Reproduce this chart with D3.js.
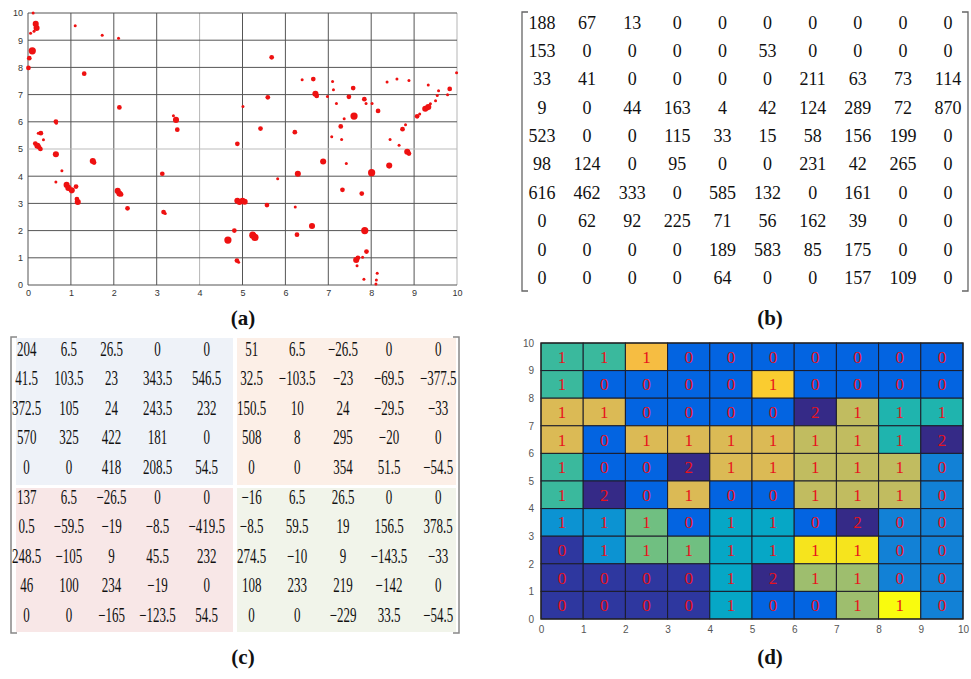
<!DOCTYPE html>
<html>
<head>
<meta charset="utf-8">
<script src="https://cdn.jsdelivr.net/npm/d3@7"></script>
<style>
body { margin: 0; background: #fff; }
svg { display: block; }
</style>
</head>
<body>
<div id="fig"></div>
<script>
// ---- data ----

// (a) sample points: [x, y, how many samples overlap at that spot]
var scatterPts = [
  [0.12,10,1],[0.18,9.6,3],[0.2,9.45,3],[0.14,9.33,1],[0.06,9.26,1],[1.10,9.53,1],[1.73,9.18,1],[2.11,9.07,1],
  [0.10,8.61,4],[0.03,8.34,2],[0.01,7.98,2],[1.31,7.77,2],[2.13,6.53,2],[3.39,6.22,1],[3.45,6.07,3],[3.48,5.71,2],
  [5.01,6.56,1],[4.88,5.19,2],[0.65,6.01,2],[0.66,5.95,1],[0.30,5.58,2],[0.24,5.58,1],[0.36,5.34,1],
  [0.17,5.2,2],[0.22,5.12,3],[0.26,5.06,2],[0.29,5.0,2],[0.65,4.81,3],[0.79,4.2,1],[0.65,3.79,1],
  [1.51,4.56,3],[1.54,4.5,2],[0.90,3.68,3],[0.94,3.57,3],[1.02,3.48,3],[1.12,3.62,2],[1.14,3.16,2],[1.16,3.05,3],
  [2.09,3.46,3],[2.13,3.36,3],[2.17,3.33,2],[2.32,2.82,2],[3.13,4.09,2],[3.16,2.68,2],[3.2,2.63,1],
  [4.88,3.1,3],[4.93,3.05,3],[5.0,3.1,3],[5.05,3.06,3],[4.81,2.0,2],[4.66,1.65,4],[4.87,0.9,2],[4.91,0.84,1],
  [5.68,8.37,2],[6.39,7.55,1],[6.65,7.57,2],[6.70,7.03,3],[6.73,6.95,2],[7.10,7.48,1],[7.12,7.18,1],[6.98,6.93,1],[7.19,6.67,1],
  [7.58,7.24,2],[7.48,6.92,2],[7.84,6.83,2],[7.88,6.67,1],[8.02,6.67,1],[8.16,6.40,2],[7.60,6.21,4],[7.37,6.11,1],[7.29,5.83,2],
  [7.08,5.45,1],[7.31,5.35,1],[8.37,7.46,1],[8.60,7.57,1],[8.88,7.52,1],[9.33,7.35,1],[9.57,7.14,1],[9.54,6.97,1],[9.83,7.21,2],
  [9.78,6.99,1],[9.99,7.80,1],[9.50,6.77,1],[9.38,6.66,1],[9.26,6.48,3],[9.33,6.54,3],[9.13,6.29,1],[9.07,6.2,2],[8.80,5.89,1],
  [8.73,5.73,2],[8.44,5.35,1],[8.65,5.14,1],[8.84,4.9,3],[8.88,4.83,2],[8.42,4.39,3],[8.01,4.13,4],[7.42,4.47,1],[6.88,4.54,3],
  [6.29,4.09,3],[5.82,3.91,1],[5.42,5.75,2],[5.59,6.9,2],[6.22,5.62,2],[7.33,3.5,2],[7.78,3.36,2],[5.57,2.94,2],[6.23,2.87,1],
  [6.62,2.17,3],[6.27,1.85,2],[5.24,1.83,4],[5.29,1.75,4],[7.85,2.0,4],[7.89,1.23,2],[7.65,0.92,3],[7.69,1.0,2],[7.80,1.02,1],
  [7.67,0.71,1],[7.83,0.21,1],[8.14,0.43,1],[8.12,0.18,1],[8.11,0.04,1]
];

// (b) matrix
var matB = [
  [188, 67, 13, 0, 0, 0, 0, 0, 0, 0],
  [153, 0, 0, 0, 0, 53, 0, 0, 0, 0],
  [33, 41, 0, 0, 0, 0, 211, 63, 73, 114],
  [9, 0, 44, 163, 4, 42, 124, 289, 72, 870],
  [523, 0, 0, 115, 33, 15, 58, 156, 199, 0],
  [98, 124, 0, 95, 0, 0, 231, 42, 265, 0],
  [616, 462, 333, 0, 585, 132, 0, 161, 0, 0],
  [0, 62, 92, 225, 71, 56, 162, 39, 0, 0],
  [0, 0, 0, 0, 189, 583, 85, 175, 0, 0],
  [0, 0, 0, 0, 64, 0, 0, 157, 109, 0]
];

// (c) matrix, 4 blocks of 5x5
var matC = [
  [204, 6.5, 26.5, 0, 0, 51, 6.5, -26.5, 0, 0],
  [41.5, 103.5, 23, 343.5, 546.5, 32.5, -103.5, -23, -69.5, -377.5],
  [372.5, 105, 24, 243.5, 232, 150.5, 10, 24, -29.5, -33],
  [570, 325, 422, 181, 0, 508, 8, 295, -20, 0],
  [0, 0, 418, 208.5, 54.5, 0, 0, 354, 51.5, -54.5],
  [137, 6.5, -26.5, 0, 0, -16, 6.5, 26.5, 0, 0],
  [0.5, -59.5, -19, -8.5, -419.5, -8.5, 59.5, 19, 156.5, 378.5],
  [248.5, -105, 9, 45.5, 232, 274.5, -10, 9, -143.5, -33],
  [46, 100, 234, -19, 0, 108, 233, 219, -142, 0],
  [0, 0, -165, -123.5, 54.5, 0, 0, -229, 33.5, -54.5]
];

// (d) grid, top row first (y 9..10 down to 0..1)
var heatCounts = [
  [1,1,1,0,0,0,0,0,0,0],
  [1,0,0,0,0,1,0,0,0,0],
  [1,1,0,0,0,0,2,1,1,1],
  [1,0,1,1,1,1,1,1,1,2],
  [1,0,0,2,1,1,1,1,1,0],
  [1,2,0,1,0,0,1,1,1,0],
  [1,1,1,0,1,1,0,2,0,0],
  [0,1,1,1,1,1,1,1,0,0],
  [0,0,0,0,1,2,1,1,0,0],
  [0,0,0,0,1,0,0,1,1,0]
];
// cell colour level (0..1 on the colormap)
var heatLevels = [
  [0.51,0.51,0.81,0.13,0.13,0.13,0.13,0.13,0.13,0.13],
  [0.51,0.13,0.13,0.13,0.13,0.86,0.13,0.13,0.13,0.13],
  [0.75,0.75,0.13,0.13,0.13,0.13,0.00,0.70,0.45,0.45],
  [0.75,0.13,0.75,0.75,0.75,0.75,0.70,0.70,0.45,0.00],
  [0.51,0.13,0.13,0.00,0.75,0.75,0.70,0.70,0.70,0.24],
  [0.51,0.00,0.13,0.75,0.13,0.13,0.70,0.70,0.70,0.24],
  [0.30,0.30,0.57,0.13,0.38,0.38,0.13,0.00,0.24,0.24],
  [0.03,0.30,0.57,0.57,0.38,0.38,0.93,0.93,0.24,0.24],
  [0.03,0.03,0.03,0.03,0.38,0.00,0.64,0.64,0.24,0.24],
  [0.03,0.03,0.03,0.03,0.38,0.13,0.13,0.64,1.00,0.24]
];

var axisTicks = d3.range(0, 11);
var panelLabels = ["(a)", "(b)", "(c)", "(d)"];

// ---- setup ----
var w = 971, h = 679;
var svg = d3.select("#fig").append("svg")
    .attr("width", w).attr("height", h)
    .attr("viewBox", "0 0 " + w + " " + h)
    .style("background", "#fff");

var serif = "'Liberation Serif', 'Times New Roman', serif";
var sans = "'Liberation Sans', Arial, sans-serif";

function fmt(v) {
  return v < 0 ? "\u2212" + Math.abs(v) : String(v);
}

// matrix bracket: dir = 1 opens right (left bracket), -1 opens left
function bracket(g, x, y0, y1, dir, color, sw) {
  g.append("path")
    .attr("d", "M" + (x + 6 * dir) + "," + y0 + "H" + x + "V" + y1 + "H" + (x + 6 * dir))
    .attr("fill", "none").attr("stroke", color).attr("stroke-width", sw);
}

// ---- (a) scatter ----
var ax = d3.scaleLinear().domain([0, 10]).range([28, 457]);
var ay = d3.scaleLinear().domain([0, 10]).range([285, 13]);
var ar = d3.scaleSqrt().domain([1, 4]).range([1.5, 3.6]);
var gA = svg.append("g");

gA.selectAll("line.vx").data(axisTicks).enter().append("line")
    .attr("x1", d => ax(d)).attr("x2", d => ax(d))
    .attr("y1", ay(0)).attr("y2", ay(10))
    .attr("stroke", d => (d == 4 || d == 10) ? "#b5b5b5" : "#555")
    .attr("stroke-width", 1);
gA.selectAll("line.hy").data(axisTicks).enter().append("line")
    .attr("y1", d => ay(d)).attr("y2", d => ay(d))
    .attr("x1", ax(0)).attr("x2", ax(10))
    .attr("stroke", d => d == 5 ? "#bbb" : "#555")
    .attr("stroke-width", 1);

gA.selectAll("circle").data(scatterPts).enter().append("circle")
    .attr("cx", d => ax(d[0])).attr("cy", d => ay(d[1]))
    .attr("r", d => ar(d[2]))
    .attr("fill", "#ee1111");

var axA = gA.append("g").attr("transform", "translate(0," + ay(0) + ")")
    .call(d3.axisBottom(ax).tickValues(axisTicks).tickSize(0).tickPadding(5));
var ayA = gA.append("g").attr("transform", "translate(" + ax(0) + ",0)")
    .call(d3.axisLeft(ay).tickValues(axisTicks).tickSize(0).tickPadding(5));
[axA, ayA].forEach(function(a) {
  a.select(".domain").remove();
  a.selectAll("text").attr("font-family", sans).attr("font-size", 9).attr("fill", "#333");
});

// ---- (b) matrix ----
var gB = svg.append("g");
var bx = d3.scalePoint().domain(d3.range(10)).range([542, 948]);
var by = d3.scalePoint().domain(d3.range(10)).range([22.5, 278]);
matB.forEach(function(row, i) {
  gB.selectAll("text.r" + i).data(row).enter().append("text")
    .attr("x", (d, j) => bx(j)).attr("y", by(i) + 6)
    .attr("text-anchor", "middle")
    .attr("font-family", serif).attr("font-size", 18).attr("fill", "#111")
    .text(fmt);
});
bracket(gB, 522, 12, 291, 1, "#666", 1.3);
bracket(gB, 968, 12, 291, -1, "#666", 1.3);

// ---- (c) block matrix ----
var gC = svg.append("g");
var cFont = 20, cSqueeze = 0.65, cGap = 12.6;
var cy = d3.scalePoint().domain(d3.range(10)).range([349, 615]);
var blocks = [
  {fill: "#eef2f8", x0: 16, x1: 233, y0: 338, y1: 485},
  {fill: "#fcefe7", x0: 237, x1: 456, y0: 338, y1: 485},
  {fill: "#f8e7e7", x0: 16, x1: 233, y0: 488, y1: 632},
  {fill: "#f1f4ea", x0: 237, x1: 456, y0: 488, y1: 632}
];
blocks.forEach(function(b) {
  gC.append("rect").attr("x", b.x0).attr("y", b.y0)
    .attr("width", b.x1 - b.x0).attr("height", b.y1 - b.y0).attr("fill", b.fill);
});

// columns laid out like a LaTeX array: width of widest entry + gap
var meas = gC.append("text").attr("font-family", serif).attr("font-size", cFont);
function textW(s) { meas.text(s); return meas.node().getComputedTextLength() * cSqueeze; }
var colX = {};
[0, 5].forEach(function(c0) {
  var x = c0 == 0 ? 12 : 237;
  for (var j = 0; j < 5; j++) {
    var wmax = d3.max(matC, row => textW(fmt(row[c0 + j])));
    colX[c0 + j] = x + wmax / 2;
    x += wmax + cGap;
  }
});
meas.remove();

matC.forEach(function(row, i) {
  gC.selectAll("text.r" + i).data(row).enter().append("text")
    .attr("transform", (d, j) => "translate(" + colX[j] + "," + (cy(i) + 6.8) + ") scale(" + cSqueeze + ",1)")
    .attr("text-anchor", "middle")
    .attr("font-family", serif).attr("font-size", cFont).attr("fill", "#111")
    .text(fmt);
});
bracket(gC, 11, 337, 633, 1, "#888", 1.5);
bracket(gC, 459, 337, 633, -1, "#888", 1.5);

// ---- (d) heat map ----
var parula = ["#352a87", "#2053d4", "#0363e1", "#0d75dc", "#1485d4", "#0998d1", "#06a7c6",
              "#1db3af", "#38b99e", "#71bf80", "#9bbe6f", "#c0bc60", "#e1b952", "#fdbe3d",
              "#f7d826", "#f5eb18", "#f9fb0e"];
var pStops = [0, 6, 8, 12, 16, 20, 24, 28, 32, 36, 40, 44, 48, 52, 56, 60, 63].map(v => v / 63);
var color = d3.scaleLinear().domain(pStops).range(parula);

var dx = d3.scaleLinear().domain([0, 10]).range([541, 963]);
var dy = d3.scaleLinear().domain([0, 10]).range([619, 343]);
var gD = svg.append("g");
var cells = [];
heatCounts.forEach(function(row, i) {
  row.forEach(function(n, j) { cells.push({col: j, yb: 9 - i, n: n, lv: heatLevels[i][j]}); });
});
gD.selectAll("rect.cell").data(cells).enter().append("rect")
    .attr("x", d => dx(d.col)).attr("y", d => dy(d.yb + 1))
    .attr("width", d => dx(d.col + 1) - dx(d.col))
    .attr("height", d => dy(d.yb) - dy(d.yb + 1))
    .attr("fill", d => color(d.lv))
    .attr("stroke", "#1c1c2a").attr("stroke-width", 1);
gD.selectAll("text.n").data(cells).enter().append("text")
    .attr("x", d => dx(d.col + 0.5)).attr("y", d => dy(d.yb + 0.5) + 6)
    .attr("text-anchor", "middle")
    .attr("font-family", serif).attr("font-size", 17).attr("fill", "#e8121c")
    .text(d => d.n);
gD.append("rect").attr("x", dx(0)).attr("y", dy(10))
    .attr("width", dx(10) - dx(0)).attr("height", dy(0) - dy(10))
    .attr("fill", "none").attr("stroke", "#222").attr("stroke-width", 1.2);

var axD = gD.append("g").attr("transform", "translate(0," + dy(0) + ")")
    .call(d3.axisBottom(dx).tickValues(axisTicks).tickSize(0).tickPadding(7));
var ayD = gD.append("g").attr("transform", "translate(" + (dx(0) - 2) + ",0)")
    .call(d3.axisLeft(dy).tickValues(axisTicks).tickSize(0).tickPadding(5));
[axD, ayD].forEach(function(a) {
  a.select(".domain").remove();
  a.selectAll("text").attr("font-family", sans).attr("font-size", 10).attr("fill", "#555");
});

// ---- panel labels ----
svg.selectAll("text.lab").data(panelLabels).enter().append("text")
    .attr("x", (d, i) => i % 2 == 0 ? 243 : 770)
    .attr("y", (d, i) => i < 2 ? 325 : 664)
    .attr("text-anchor", "middle")
    .attr("font-family", serif).attr("font-weight", "bold").attr("font-size", 21).attr("fill", "#111")
    .text(d => d);
</script>
</body>
</html>
